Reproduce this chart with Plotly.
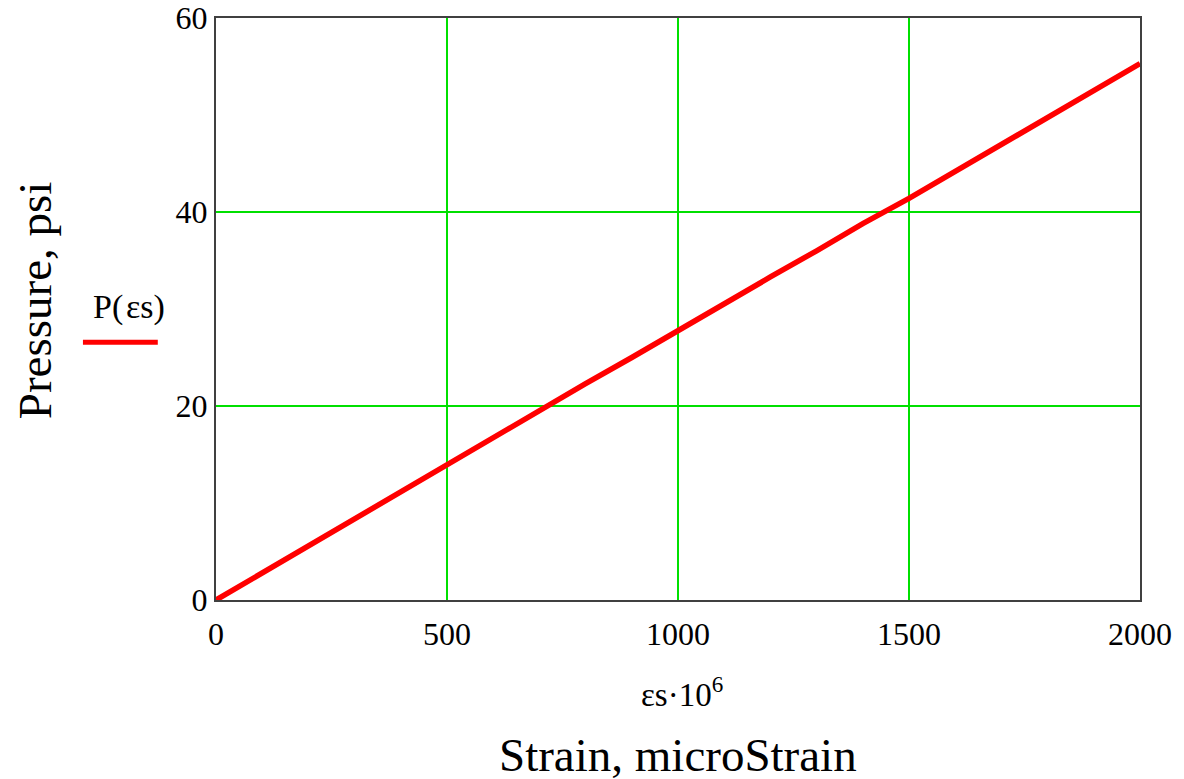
import plotly.graph_objects as go

# Data
strain_micro = [0, 100, 200, 300, 400, 500, 600, 700, 800, 900, 1000,
                1100, 1200, 1300, 1400, 1500, 1600, 1700, 1800, 1900, 2000]
pressure_psi = [0.0, 2.8, 5.6, 8.3, 11.1, 14.0, 16.7, 19.5, 22.3, 25.0, 27.8,
                30.5, 33.3, 36.0, 38.8, 41.4, 44.2, 47.0, 49.8, 52.5, 55.3]
x_ticks = [0, 500, 1000, 1500, 2000]
y_ticks = [0, 20, 40, 60]

FONT = "Liberation Serif, Times New Roman, serif"
GRID = "#00e000"
AXIS = "#404040"

fig = go.Figure()
fig.add_trace(go.Scatter(x=strain_micro, y=pressure_psi, mode="lines",
                         line=dict(color="#ff0000", width=5.5),
                         showlegend=False, hoverinfo="skip"))

fig.update_layout(
    width=1184, height=779,
    margin=dict(l=208, r=52, t=10, b=187, autoexpand=False),
    paper_bgcolor="white", plot_bgcolor="white",
    font=dict(family=FONT, color="#000000"),
    xaxis=dict(range=[0, 2000], tickvals=x_ticks, ticktext=[str(v) for v in x_ticks],
               showgrid=True, gridcolor=GRID, gridwidth=1.5,
               showline=True, linecolor=AXIS, linewidth=2, mirror=True,
               zeroline=False, ticks="", automargin=False, ticklabeloverflow="allow",
               tickfont=dict(size=32, family=FONT), ticklabelstandoff=5),
    yaxis=dict(range=[0, 60], tickvals=y_ticks, ticktext=[str(v) for v in y_ticks],
               showgrid=True, gridcolor=GRID, gridwidth=1.5,
               showline=True, linecolor=AXIS, linewidth=2, mirror=True,
               zeroline=False, ticks="", automargin=False, ticklabeloverflow="allow",
               tickfont=dict(size=32, family=FONT), ticklabelstandoff=0),
)

# Axis expression and titles (Mathcad style)
fig.add_annotation(text="\u03b5s\u00b710<sup>6</sup>", xref="paper", yref="paper",
                   x=0.504, y=-0.158, xanchor="center", yanchor="middle",
                   showarrow=False, font=dict(size=33, family=FONT, color="#000"))
fig.add_annotation(text="Strain, microStrain", xref="paper", yref="paper",
                   x=0.5, y=-0.266, xanchor="center", yanchor="middle",
                   showarrow=False, font=dict(size=47, family=FONT, color="#000"))
fig.add_annotation(text="Pressure, psi", xref="paper", yref="paper",
                   x=-0.196, y=0.515, xanchor="center", yanchor="middle", textangle=-90,
                   showarrow=False, font=dict(size=47, family=FONT, color="#000"))

# Legend key: expression label with red line under it
fig.add_annotation(text="P(\u200a\u03b5s)", xref="paper", yref="paper",
                   x=-0.094, y=0.503, xanchor="center", yanchor="middle",
                   showarrow=False, font=dict(size=34, family=FONT, color="#000"))
fig.add_shape(type="line", xref="paper", yref="paper",
              x0=-0.144, x1=-0.063, y0=0.443, y1=0.443,
              line=dict(color="#ff0000", width=5))

fig.write_html("out.html")
